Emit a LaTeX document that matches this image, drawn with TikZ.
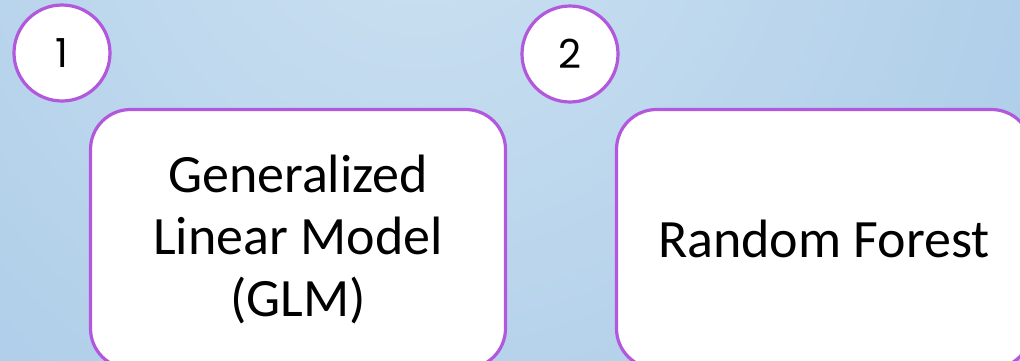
\documentclass[tikz,border=0pt]{standalone}
\usepackage{fontspec}
\setmainfont{Carlito}
\newfontfamily\numfont{Poppins}
\definecolor{bgtop}{RGB}{204,225,241}
\definecolor{bgbot}{RGB}{160,196,229}
\definecolor{edgepurple}{RGB}{178,88,220}
\tikzset{
  numcircle/.style={circle, draw=edgepurple, line width=3.2pt, fill=white,
    minimum size=96pt, inner sep=0pt, font=\numfont\fontsize{40pt}{48pt}\selectfont},
  modelbox/.style={rectangle, rounded corners=40pt, draw=edgepurple, line width=3.2pt,
    fill=white, minimum width=415pt, minimum height=259pt, align=center,
    font=\fontsize{54pt}{62pt}\selectfont}
}
\begin{document}
\begin{tikzpicture}[x=1pt,y=-1pt]
\useasboundingbox (0,0) rectangle (1020,360);
\clip (0,0) rectangle (1020,360);
\fill[bgbot] (0,0) rectangle (1020,360);
\shade[inner color=bgtop, outer color=bgbot] (420,-120) circle (1000);
\node[numcircle] (c1) at (62,53) {1};
\node[numcircle] (c2) at (570,54) {2};
\node[modelbox] (b1) at (298,239) {Generalized\\Linear Model\\(GLM)};
\node[modelbox] (b2) at (824,239) {Random Forest};
\end{tikzpicture}
\end{document}
